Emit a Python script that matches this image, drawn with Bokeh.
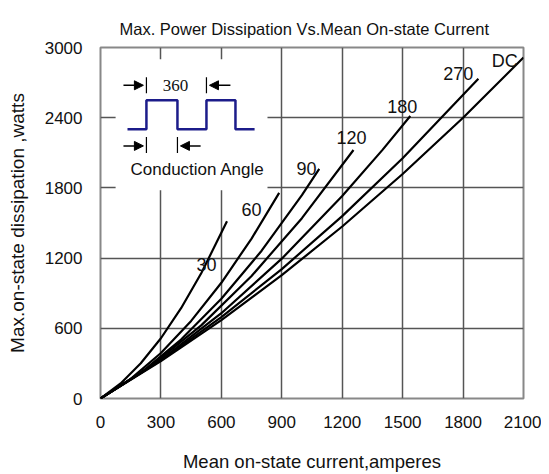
from bokeh.plotting import figure
from bokeh.embed import file_html
from bokeh.resources import INLINE
from bokeh.models import FixedTicker, Range1d, Arrow, NormalHead, Title
from bokeh.core.properties import value

# ---- data ----
angle_30_x = [0, 100, 200, 300, 400, 500, 628]
angle_30_y = [0, 129, 301, 515, 772, 1070, 1514]
angle_60_x = [0, 150, 300, 450, 600, 750, 887]
angle_60_y = [0, 168, 389, 663, 989, 1367, 1758]
angle_90_x = [0, 200, 400, 600, 800, 1000, 1086]
angle_90_y = [0, 220, 504, 852, 1263, 1738, 1962]
angle_120_x = [0, 250, 500, 750, 1000, 1256]
angle_120_y = [0, 276, 625, 1047, 1541, 2124]
angle_180_x = [0, 300, 600, 900, 1200, 1400, 1538]
angle_180_y = [0, 330, 729, 1195, 1730, 2125, 2414]
angle_270_x = [0, 300, 600, 900, 1200, 1500, 1876]
angle_270_y = [0, 326, 695, 1106, 1559, 2054, 2733]
dc_x = [0, 300, 600, 900, 1200, 1500, 1800, 2100]
dc_y = [0, 319, 670, 1054, 1470, 1919, 2399, 2915]

curve_labels = ["30", "60", "90", "120", "180", "270", "DC"]
label_x = [526, 750, 1023, 1246, 1498, 1776, 2007]
label_y = [1147, 1615, 1969, 2233, 2493, 2776, 2884]

x_ticks = [0, 300, 600, 900, 1200, 1500, 1800, 2100]
y_ticks = [0, 600, 1200, 1800, 2400, 3000]

FONT = "Liberation Sans"

p = figure(width=541, height=474, output_backend="svg", toolbar_location=None,
           x_range=Range1d(0, 2100), y_range=Range1d(0, 3000),
           min_border_left=100, min_border_right=18, min_border_top=47, min_border_bottom=74)
p.background_fill_color = "white"
p.border_fill_color = "white"
p.outline_line_color = "#888888"
p.outline_line_width = 2

p.title = Title(text="Max. Power Dissipation Vs.Mean On-state Current", align="left",
                text_font=FONT, text_font_size="16.5px", text_font_style="normal",
                text_color="#111111", offset=19, standoff=20)

for ax in (p.xaxis[0], p.yaxis[0]):
    ax.major_tick_in = 0
    ax.major_tick_out = 0
    ax.minor_tick_in = 0
    ax.minor_tick_out = 0
    ax.axis_line_color = None
    ax.major_label_text_font = FONT
    ax.major_label_text_font_size = "17px"
    ax.major_label_text_color = "#111111"
    ax.axis_label_text_font = FONT
    ax.axis_label_text_font_size = "18.5px"
    ax.axis_label_text_font_style = "normal"
    ax.axis_label_text_color = "#111111"

p.yaxis[0].axis_label_text_font_size = "19px"
p.xaxis[0].major_label_standoff = 17
p.yaxis[0].major_label_standoff = 18
p.xaxis[0].ticker = FixedTicker(ticks=x_ticks)
p.yaxis[0].ticker = FixedTicker(ticks=y_ticks)
p.xaxis[0].axis_label = "Mean on-state current,amperes"
p.yaxis[0].axis_label = "Max.on-state dissipation ,watts"
p.xaxis[0].axis_label_standoff = 20
p.yaxis[0].axis_label_standoff = 14

for g in (p.xgrid[0], p.ygrid[0]):
    g.grid_line_color = "#555555"
    g.grid_line_width = 1.5
    g.grid_line_alpha = 1.0

# inset white box (covers grid)
p.quad(left=[75], right=[829], bottom=[1780], top=[2900], fill_color="white", line_color=None)

# curves
for xs, ys in [(angle_30_x, angle_30_y), (angle_60_x, angle_60_y), (angle_90_x, angle_90_y),
               (angle_120_x, angle_120_y), (angle_180_x, angle_180_y),
               (angle_270_x, angle_270_y), (dc_x, dc_y)]:
    p.line(xs, ys, line_color="black", line_width=2.2)

p.text(x=label_x, y=label_y, text=curve_labels, text_font=value(FONT), text_font_size="18px",
       text_align="center", text_baseline="middle", text_color="#111111")

# inset waveform
p.line([134, 228, 228, 382, 382, 526, 526, 670, 670, 765],
       [2301, 2301, 2550, 2550, 2301, 2301, 2550, 2550, 2301, 2301],
       line_color="#1c1c8a", line_width=2.5)

# arrows and bars
def arrow(x0, x1, y):
    p.add_layout(Arrow(x_start=x0, y_start=y, x_end=x1, y_end=y, line_width=1.5,
                       end=NormalHead(size=9, fill_color="black", line_color="black")))

arrow(114, 213, 2677)
arrow(645, 541, 2677)
arrow(114, 213, 2159)
arrow(497, 397, 2159)
p.segment(x0=[228, 526, 228, 382], y0=[2609, 2609, 2099, 2099],
          x1=[228, 526, 228, 382], y1=[2745, 2745, 2235, 2235], line_color="black", line_width=1.2)

p.text(x=[372], y=[2677], text=["360"], text_font=value("Liberation Serif"), text_font_size="17px",
       text_align="center", text_baseline="middle", text_color="#111111")
p.text(x=[482], y=[1955], text=["Conduction Angle"], text_font=value(FONT), text_font_size="17px",
       text_align="center", text_baseline="middle", text_color="#111111")

open("out.html", "w").write(file_html(p, INLINE))
